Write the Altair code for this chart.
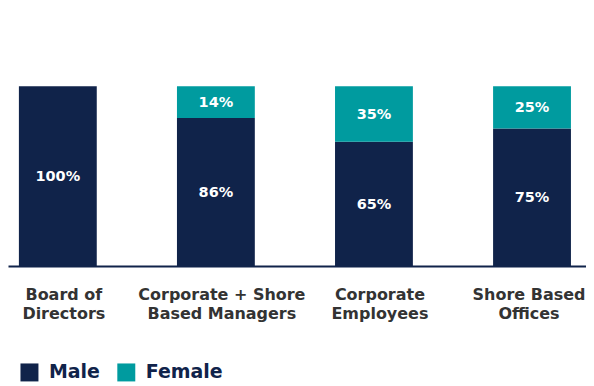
import altair as alt
import pandas as pd

categories = ["Board of Directors", "Corporate + Shore Based Managers",
              "Corporate Employees", "Shore Based Offices"]
label_lines = {
    "Board of Directors": ["Board of", "Directors"],
    "Corporate + Shore Based Managers": ["Corporate + Shore", "Based Managers"],
    "Corporate Employees": ["Corporate", "Employees"],
    "Shore Based Offices": ["Shore Based", "Offices"],
}
male = [100, 82.3, 69.0, 76.4]
female = [0, 17.7, 31.0, 23.6]
male_labels = ["100%", "86%", "65%", "75%"]
female_labels = ["", "14%", "35%", "25%"]

series = ["Male", "Female"]
colors = ["#10234a", "#009b9f"]

rows = []
for i, c in enumerate(categories):
    rows.append({"category": c, "gender": "Male", "order": 0,
                 "value": male[i], "label": male_labels[i]})
    rows.append({"category": c, "gender": "Female", "order": 1,
                 "value": female[i], "label": female_labels[i]})
df = pd.DataFrame(rows)

label_expr = "{" + ",".join(
    f"'{k}': ['{v[0]}', '{v[1]}']" for k, v in label_lines.items()
) + "}[datum.value]"

base = alt.Chart(df).transform_stack(
    stack="value", groupby=["category"], as_=["v0", "v1"],
    sort=[alt.SortField("order", order="ascending")]
).transform_calculate(mid="(datum.v0 + datum.v1) / 2")

xenc = alt.X("category:N", sort=categories, title=None,
             scale=alt.Scale(paddingInner=0.5074, paddingOuter=0.0821, align=0.42),
             axis=alt.Axis(labelAngle=0, ticks=False, domainColor="#10234a",
                           domainWidth=2, labelFont="DejaVu Sans",
                           labelFontWeight="bold", labelFontSize=16,
                           labelColor="#333333", labelPadding=21,
                           labelLineHeight=19, labelBaseline="top",
                           labelOffset={"condition": {"test": "datum.value == 'Shore Based Offices'",
                                                      "value": -3},
                                        "value": 6},
                           labelExpr=label_expr, grid=False))
yscale = alt.Scale(domain=[0, 143.3], nice=False, zero=True)

bars = base.mark_bar().encode(
    x=xenc,
    y=alt.Y("v0:Q", scale=yscale, axis=None),
    y2="v1:Q",
    color=alt.Color("gender:N", scale=alt.Scale(domain=series, range=colors),
                    legend=alt.Legend(title=None, orient="none", legendX=12,
                                      legendY=355, direction="horizontal",
                                      symbolType="square", symbolSize=324,
                                      symbolStrokeWidth=0, labelFont="DejaVu Sans",
                                      labelFontWeight="bold", labelFontSize=19,
                                      labelColor="#10234a", columnPadding=16,
                                      labelOffset=10)),
)

text = base.mark_text(color="white", font="DejaVu Sans", fontWeight="bold",
                      fontSize=14.5, baseline="middle", dy=1).encode(
    x=alt.X("category:N", sort=categories),
    y=alt.Y("mid:Q", scale=yscale),
    text="label:N",
)

chart = alt.layer(bars, text).properties(
    width=579, height=258,
    autosize=alt.AutoSizeParams(type="none"),
    padding={"left": 0, "top": 0, "right": 0, "bottom": 120},
).configure_view(stroke=None)

chart.save("out.html", embed_options={"renderer": "svg", "actions": False})
